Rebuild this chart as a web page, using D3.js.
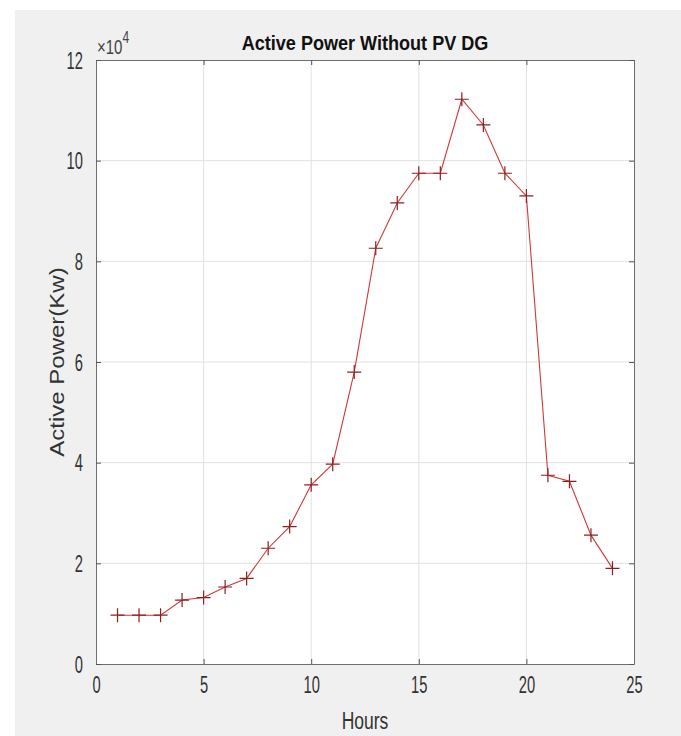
<!DOCTYPE html>
<html>
<head>
<meta charset="utf-8">
<script src="https://cdn.jsdelivr.net/npm/d3@7"></script>
<style>
  body { margin: 0; background: #fff; }
  svg { display: block; }
  text { font-family: "Liberation Sans", Arial, sans-serif; }
</style>
</head>
<body>
<svg id="chart"></svg>
<script>
// hours 1..24, active power in units of 1e4 kW
const hours = [1, 2, 3, 4, 5, 6, 7, 8, 9, 10, 11, 12, 13, 14, 15, 16, 17, 18, 19, 20, 21, 22, 23, 24];
const power = [0.97, 0.97, 0.97, 1.27, 1.32, 1.53, 1.70, 2.30, 2.73, 3.56, 3.97, 5.80, 8.26, 9.16, 9.75, 9.75, 11.22, 10.71, 9.75, 9.30, 3.75, 3.63, 2.56, 1.90];
const xTicks = [0, 5, 10, 15, 20, 25];
const yTicks = [0, 2, 4, 6, 8, 10, 12];

const W = 681, H = 736;
const margin = { top: 60, right: 47, bottom: 72, left: 96 };
const width = W - margin.left - margin.right;
const height = H - margin.top - margin.bottom;

const svg = d3.select("#chart").attr("width", W).attr("height", H);

// squeeze text horizontally, the source image is condensed
function squeeze(sel, k) {
    sel.each(function () {
        const len = this.getComputedTextLength();
        d3.select(this).attr("textLength", len * k).attr("lengthAdjust", "spacingAndGlyphs");
    });
}

// figure background
svg.append("rect")
    .attr("x", 15).attr("y", 10)
    .attr("width", W - 15).attr("height", H - 10)
    .attr("fill", "#f0f0f0");

const g = svg.append("g").attr("transform", `translate(${margin.left},${margin.top})`);

const x = d3.scaleLinear().domain([0, 25]).range([0, width]);
const y = d3.scaleLinear().domain([0, 12]).range([height, 0]);

g.append("rect").attr("width", width).attr("height", height).attr("fill", "#fff");

// grid
g.append("g").selectAll("line").data(xTicks.slice(1, -1)).join("line")
    .attr("x1", d => x(d)).attr("x2", d => x(d))
    .attr("y1", 0).attr("y2", height)
    .attr("stroke", "#e1e1e1").attr("stroke-width", 1);
g.append("g").selectAll("line").data(yTicks.slice(1, -1)).join("line")
    .attr("y1", d => y(d)).attr("y2", d => y(d))
    .attr("x1", 0).attr("x2", width)
    .attr("stroke", "#e1e1e1").attr("stroke-width", 1);

// axes, ticks inward like matlab
const xAxis = g.append("g").attr("transform", `translate(0,${height})`)
    .call(d3.axisBottom(x).tickValues(xTicks).tickSizeInner(-5).tickSizeOuter(0).tickPadding(13));
const xTop = g.append("g")
    .call(d3.axisTop(x).tickValues(xTicks).tickSizeInner(-5).tickSizeOuter(0).tickFormat(""));
const yAxis = g.append("g")
    .call(d3.axisLeft(y).tickValues(yTicks).tickSizeInner(-5).tickSizeOuter(0).tickPadding(13));
const yRight = g.append("g").attr("transform", `translate(${width},0)`)
    .call(d3.axisRight(y).tickValues(yTicks).tickSizeInner(-5).tickSizeOuter(0).tickFormat(""));

[xAxis, xTop, yAxis, yRight].forEach(a => {
    a.select(".domain").attr("stroke", "#6e6e6e");
    a.selectAll(".tick line").attr("stroke", "#555");
    a.selectAll("text")
        .attr("font-size", 23)
        .attr("font-family", "Liberation Sans, Arial, sans-serif")
        .attr("fill", "#333")
        .call(squeeze, 0.64);
});
yAxis.selectAll("text").attr("dy", "0.36em");

// line
const line = d3.line().x(d => x(d[0])).y(d => y(d[1]));
const pts = hours.map((h, i) => [h, power[i]]);

g.append("path")
    .datum(pts)
    .attr("fill", "none")
    .attr("stroke", "#cf3a36")
    .attr("stroke-width", 1.1)
    .attr("d", line);

// plus markers
const s = 7;
g.append("g").selectAll("path").data(pts).join("path")
    .attr("transform", d => `translate(${x(d[0])},${y(d[1])})`)
    .attr("d", `M${-s},0H${s}M0,${-s}V${s}`)
    .attr("stroke", "#8e1f1f")
    .attr("stroke-width", 1.2)
    .attr("fill", "none");

// exponent label
const expo = svg.append("g")
    .attr("transform", `translate(${margin.left + 1},54) scale(0.75,1)`)
    .append("text")
    .attr("fill", "#444");
expo.append("tspan").attr("font-size", 20).text("×10");
expo.append("tspan").attr("dy", -11).attr("font-size", 16).text("4");

// title
svg.append("text")
    .attr("x", 365).attr("y", 50)
    .attr("text-anchor", "middle")
    .attr("font-size", 21).attr("font-weight", "bold")
    .attr("fill", "#111")
    .text("Active Power Without PV DG")
    .call(squeeze, 0.86);

// axis labels
svg.append("text")
    .attr("x", margin.left + width / 2).attr("y", 729)
    .attr("text-anchor", "middle")
    .attr("font-size", 23).attr("fill", "#333")
    .text("Hours")
    .call(squeeze, 0.76);

svg.append("text")
    .attr("transform", `translate(64,${margin.top + height / 2}) rotate(-90)`)
    .attr("text-anchor", "middle")
    .attr("font-size", 20).attr("fill", "#333")
    .text("Active Power(Kw)")
    .call(squeeze, 1.2);
</script>
</body>
</html>
